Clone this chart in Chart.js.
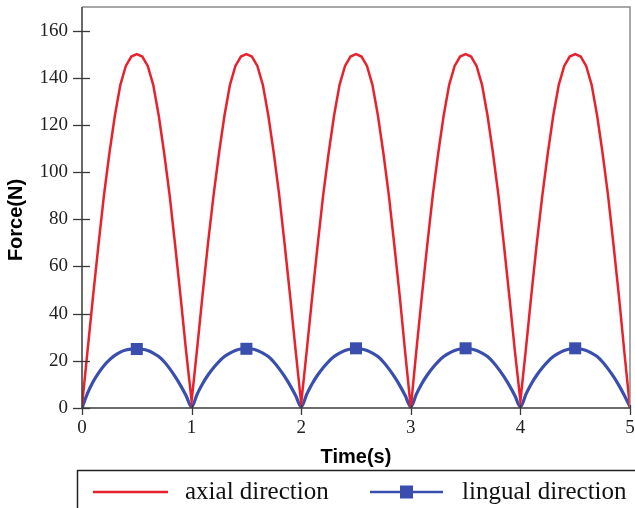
<!DOCTYPE html>
<html>
<head>
<meta charset="utf-8">
<script src="https://cdn.jsdelivr.net/npm/chart.js@4/dist/chart.umd.min.js"></script>
<style>
  html, body { margin: 0; padding: 0; background: #fff; }
  #wrap { width: 635px; height: 508px; position: relative; }
</style>
</head>
<body>
<div id="wrap"><canvas id="c" width="635" height="508"></canvas></div>
<script>
// ---- data ----
const times = [
  0,0.05,0.1,0.15,0.2,0.25,0.3,0.35,0.4,0.45,0.5,0.55,0.6,0.65,0.7,0.75,0.8,0.85,0.9,0.95,
  1,1.05,1.1,1.15,1.2,1.25,1.3,1.35,1.4,1.45,1.5,1.55,1.6,1.65,1.7,1.75,1.8,1.85,1.9,1.95,
  2,2.05,2.1,2.15,2.2,2.25,2.3,2.35,2.4,2.45,2.5,2.55,2.6,2.65,2.7,2.75,2.8,2.85,2.9,2.95,
  3,3.05,3.1,3.15,3.2,3.25,3.3,3.35,3.4,3.45,3.5,3.55,3.6,3.65,3.7,3.75,3.8,3.85,3.9,3.95,
  4,4.05,4.1,4.15,4.2,4.25,4.3,4.35,4.4,4.45,4.5,4.55,4.6,4.65,4.7,4.75,4.8,4.85,4.9,4.95,
  5
];
const axialForce = [
  1,24,47,69,90,108,124,137,145,149,150,149,145,137,124,108,90,69,47,24,
  3,25,48,70,90,108,124,137,145,149,150,149,145,137,124,108,90,69,47,24,
  2,24,47,69,90,108,124,137,145,149,150,149,145,137,124,108,90,69,47,23,
  0,24,47,69,90,108,124,137,145,149,150,149,145,137,124,108,90,69,47,24,
  3,25,48,70,90,108,124,137,145,149,150,149,145,137,124,108,90,69,47,23,
  0
];
const lingualForce = [
  0,6.2,11,14.8,17.9,20.4,22.3,23.7,24.6,25,25,24.9,24.4,23.3,21.8,19.6,16.7,13.3,9.5,5.2,
  0.5,5.8,10.3,14,17.1,19.7,21.8,23.3,24.4,25,25.1,25,24.4,23.3,21.8,19.5,16.6,13.3,9.5,5.2,
  0.5,5.8,10.3,14,17.1,19.7,21.8,23.3,24.4,25,25.3,25,24.4,23.3,21.8,19.5,16.6,13.3,9.5,5.2,
  0.5,5.8,10.3,14,17.1,19.7,21.8,23.3,24.4,25,25.3,25,24.4,23.3,21.8,19.5,16.6,13.3,9.5,5.2,
  0.5,5.8,10.3,14,17.1,19.7,21.8,23.3,24.4,25,25.3,25,24.4,23.3,21.8,19.5,16.6,13.3,9.5,5.2,
  0.5
];
const lingualMarkerTimes = [0.5, 1.5, 2.5, 3.5, 4.5];
const seriesNames = ['axial direction', 'lingual direction'];
const xTicks = [0, 1, 2, 3, 4, 5];
const yMajorTicks = [0, 20, 40, 60, 80, 100, 120, 140, 160];
const xTitle = 'Time(s)';
const yTitle = 'Force(N)';

const RED = '#e8222c';
const BLUE = '#3a4eae';

const axialPts = times.map((t, i) => ({ x: t, y: axialForce[i] }));
const lingualPts = times.map((t, i) => ({ x: t, y: lingualForce[i] }));

const zeroPad = s => { s.paddingTop = 0; s.paddingBottom = 0; s.paddingLeft = 0; s.paddingRight = 0; };

const framePlugin = {
  id: 'frame',
  afterDraw(chart) {
    const ctx = chart.ctx;
    const a = chart.chartArea;
    const xs = chart.scales.x, ys = chart.scales.y;
    ctx.save();
    // top & right frame
    ctx.strokeStyle = '#8a8a8a';
    ctx.lineWidth = 1.5;
    ctx.beginPath();
    ctx.moveTo(a.left, a.top); ctx.lineTo(a.right, a.top); ctx.lineTo(a.right, a.bottom);
    ctx.stroke();
    // left & bottom axes
    ctx.strokeStyle = '#3a3a3a';
    ctx.beginPath();
    ctx.moveTo(a.left, a.top); ctx.lineTo(a.left, a.bottom); ctx.lineTo(a.right, a.bottom);
    ctx.stroke();
    // y ticks (major crossing the axis, minor shorter)
    ctx.lineWidth = 1.3;
    ys.ticks.forEach(t => {
      const py = Math.round(ys.getPixelForValue(t.value)) + 0.5;
      const major = yMajorTicks.includes(t.value);
      ctx.beginPath();
      ctx.moveTo(a.left - (major ? 9 : 5), py);
      ctx.lineTo(a.left + (major ? 8 : 5), py);
      ctx.stroke();
    });
    // x ticks
    xs.ticks.forEach(t => {
      const px = Math.round(xs.getPixelForValue(t.value)) + 0.5;
      ctx.beginPath();
      ctx.moveTo(px, a.bottom - 3);
      ctx.lineTo(px, a.bottom + 7);
      ctx.stroke();
    });
    // y axis title
    ctx.save();
    ctx.translate(16, 220);
    ctx.rotate(-Math.PI / 2);
    ctx.fillStyle = '#000';
    ctx.font = 'bold 20px "Liberation Sans", Arial, sans-serif';
    ctx.textAlign = 'center';
    ctx.textBaseline = 'middle';
    ctx.fillText(yTitle, 0, 0);
    ctx.restore();
    // legend box
    ctx.strokeStyle = '#222';
    ctx.lineWidth = 1.5;
    ctx.strokeRect(77.5, 470.5, 620, 60);
    const ly = 492;
    ctx.lineWidth = 2.5;
    ctx.strokeStyle = chart.data.datasets[0].borderColor;
    ctx.beginPath(); ctx.moveTo(93, ly); ctx.lineTo(168, ly); ctx.stroke();
    ctx.strokeStyle = chart.data.datasets[1].borderColor;
    ctx.beginPath(); ctx.moveTo(370, ly); ctx.lineTo(443, ly); ctx.stroke();
    ctx.fillStyle = chart.data.datasets[1].borderColor;
    ctx.fillRect(400, ly - 6.5, 13, 13);
    ctx.fillStyle = '#111';
    ctx.font = '25px "Liberation Serif", serif';
    ctx.textAlign = 'left';
    ctx.textBaseline = 'alphabetic';
    ctx.fillText(chart.data.datasets[0].label, 185, 499);
    ctx.fillText(chart.data.datasets[1].label, 462, 499);
    ctx.restore();
  }
};

new Chart(document.getElementById('c'), {
  type: 'line',
  data: {
    datasets: [
      {
        label: seriesNames[0],
        data: axialPts,
        borderColor: RED,
        backgroundColor: RED,
        borderWidth: 2.5,
        pointRadius: 0,
        tension: 0,
        fill: false
      },
      {
        label: seriesNames[1],
        data: lingualPts,
        borderColor: BLUE,
        backgroundColor: BLUE,
        borderWidth: 3.2,
        pointStyle: 'rect',
        pointRadius: ctx => lingualMarkerTimes.includes(times[ctx.dataIndex]) ? 8.5 : 0,
        pointBorderWidth: 0,
        cubicInterpolationMode: 'monotone',
        fill: false
      }
    ]
  },
  options: {
    responsive: false,
    animation: false,
    events: [],
    layout: { padding: { left: 0, right: 5, top: 7, bottom: 35 } },
    plugins: {
      legend: { display: false },
      tooltip: { enabled: false }
    },
    scales: {
      x: {
        type: 'linear',
        min: 0, max: 5,
        afterFit: s => { s.height = 65; zeroPad(s); },
        afterBuildTicks: s => { s.ticks = xTicks.map(v => ({ value: v })); },
        grid: { display: false, drawTicks: false },
        border: { display: false },
        ticks: {
          padding: 9,
          color: '#222',
          font: { family: '"Liberation Serif", serif', size: 19 },
          maxRotation: 0,
          callback: v => String(v)
        },
        title: {
          display: true,
          text: xTitle,
          color: '#000',
          font: { family: '"Liberation Sans", Arial, sans-serif', size: 20, weight: 'bold' },
          padding: { top: 0, bottom: 4 }
        }
      },
      y: {
        min: 0, max: 170,
        afterFit: s => { s.width = 82; zeroPad(s); },
        grid: { display: false, drawTicks: false },
        border: { display: false },
        ticks: {
          stepSize: 10,
          padding: 14,
          color: '#222',
          font: { family: '"Liberation Serif", serif', size: 19 },
          callback: v => yMajorTicks.includes(v) ? String(v) : ''
        },
        title: { display: false }
      }
    }
  },
  plugins: [framePlugin]
});
</script>
</body>
</html>
